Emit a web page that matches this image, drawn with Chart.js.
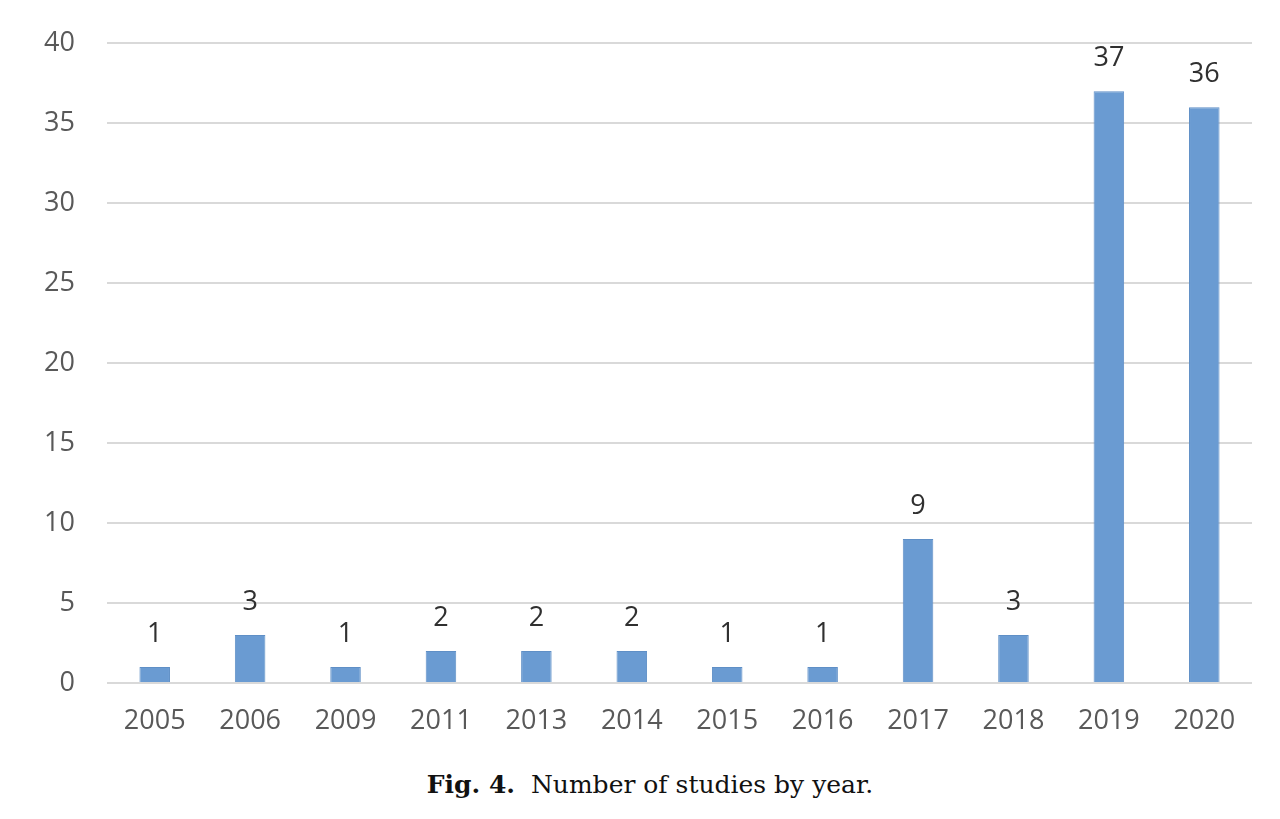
<!DOCTYPE html>
<html>
<head>
<meta charset="utf-8">
<script src="https://cdn.jsdelivr.net/npm/chart.js@4"></script>
<style>
  body { margin: 0; background: #fff; width: 1280px; height: 819px; overflow: hidden; }
  #wrap { position: absolute; left: 0; top: -5px; width: 1280px; height: 745px; }
  #caption {
    position: absolute; left: 0; top: 770px; width: 1300px; text-align: center;
    font-family: "DejaVu Serif", serif; font-size: 25px; color: #111;
  }
</style>
</head>
<body>
<div id="wrap"><canvas id="chart"></canvas></div>
<div id="caption"><b>Fig. 4.</b>&nbsp; Number of studies by year.</div>
<script>
const years = ['2005', '2006', '2009', '2011', '2013', '2014', '2015', '2016', '2017', '2018', '2019', '2020'];
const studies = [1, 3, 1, 2, 2, 2, 1, 1, 9, 3, 37, 36];
const yTicks = [0, 5, 10, 15, 20, 25, 30, 35, 40];

// draw the value above each bar
const valueLabels = {
    id: 'valueLabels',
    afterDatasetsDraw(chart) {
        const ctx = chart.ctx;
        const meta = chart.getDatasetMeta(0);
        ctx.save();
        ctx.font = '27px "Open Sans", sans-serif';
        ctx.fillStyle = '#303030';
        ctx.textAlign = 'center';
        ctx.textBaseline = 'middle';
        meta.data.forEach((bar, i) => {
            ctx.fillText(studies[i], bar.x, bar.y - 33);
        });
        ctx.restore();
    }
};

new Chart(document.getElementById('chart'), {
    type: 'bar',
    data: {
        labels: years,
        datasets: [{
            data: studies,
            backgroundColor: '#6a9bd2',
            borderColor: '#5f8fc6',
            borderWidth: 1,
            barPercentage: 0.64,
            categoryPercentage: 0.5
        }]
    },
    options: {
        responsive: true,
        maintainAspectRatio: false,
        animation: false,
        layout: { padding: { top: 35, right: 28, left: 0, bottom: 0 } },
        plugins: {
            legend: { display: false },
            tooltip: { enabled: false }
        },
        scales: {
            x: {
                grid: { display: false, drawTicks: false },
                border: { display: false },
                ticks: {
                    color: '#595959',
                    font: { family: 'Open Sans', size: 27 },
                    padding: 22,
                    maxRotation: 0
                },
                afterFit(scale) { scale.height = 57; }
            },
            y: {
                min: 0,
                max: 40,
                afterBuildTicks(scale) { scale.ticks = yTicks.map(v => ({ value: v })); },
                grid: { color: '#d9d9d9', lineWidth: 2, drawTicks: false },
                border: { display: false },
                ticks: {
                    color: '#595959',
                    font: { family: 'Open Sans', size: 27 },
                    padding: 32
                },
                afterFit(scale) { scale.width = 107; }
            }
        }
    },
    plugins: [valueLabels]
});
</script>
</body>
</html>
